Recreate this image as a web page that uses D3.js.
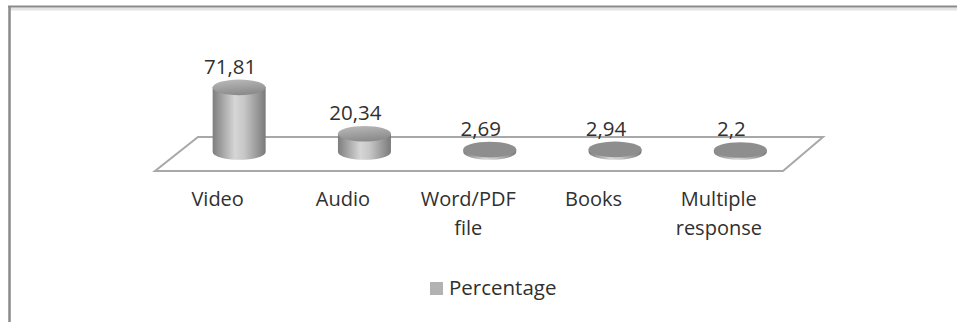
<!DOCTYPE html>
<html>
<head>
<meta charset="utf-8">
<script src="https://cdn.jsdelivr.net/npm/d3@7/dist/d3.min.js"></script>
<style>
  html, body { margin: 0; padding: 0; background: #fff; }
  svg { display: block; }
  text { font-family: "Open Sans", "Liberation Sans", sans-serif; fill: #303030; }
</style>
</head>
<body>
<script>
// Chart data
const categories = ["Video", "Audio", "Word/PDF file", "Books", "Multiple response"];
const categoryLines = [["Video"], ["Audio"], ["Word/PDF", "file"], ["Books"], ["Multiple", "response"]];
const percentages = [71.81, 20.34, 2.69, 2.94, 2.2];
const valueLabels = ["71,81", "20,34", "2,69", "2,94", "2,2"];
const seriesName = "Percentage";

const W = 957, H = 322;
const svg = d3.select("body").append("svg").attr("width", W).attr("height", H);

// Frame (top and left edges visible)
svg.append("line").attr("x1", 9).attr("x2", W).attr("y1", 9).attr("y2", 9)
  .attr("stroke", "#e4e4e4").attr("stroke-width", 3);
svg.append("line").attr("x1", 8).attr("x2", W).attr("y1", 6.5).attr("y2", 6.5)
  .attr("stroke", "#8a8a8a").attr("stroke-width", 2);
svg.append("line").attr("x1", 9.5).attr("x2", 9.5).attr("y1", 6).attr("y2", H)
  .attr("stroke", "#8a8a8a").attr("stroke-width", 2.5);

// Floor geometry
const floorMidY = 154, floorDepth = 17, skew = 21.5;
const x = d3.scaleBand().domain(categories).range([176.5, 803]).padding(0);
const y = d3.scaleLinear().domain([0, 80]).range([0, 72]);

const x0 = x.range()[0], x1 = x.range()[1];
const floor = [
  [x0 + skew, floorMidY - floorDepth],
  [x1 + skew - 1.5, floorMidY - floorDepth],
  [x1 - skew + 1.5, floorMidY + floorDepth],
  [x0 - skew, floorMidY + floorDepth]
];
svg.append("path")
  .attr("d", d3.line()(floor) + "Z")
  .attr("fill", "none").attr("stroke", "#a8a8a8").attr("stroke-width", 2)
  .attr("stroke-linejoin", "miter");

// Gradients for the cylinders
const defs = svg.append("defs");
const sideGrad = defs.append("linearGradient").attr("id", "side")
  .attr("x1", "0").attr("x2", "1").attr("y1", "0").attr("y2", "0");
sideGrad.append("stop").attr("offset", "0").attr("stop-color", "#7e7e7e");
sideGrad.append("stop").attr("offset", "0.42").attr("stop-color", "#d6d6d6");
sideGrad.append("stop").attr("offset", "0.6").attr("stop-color", "#c6c6c6");
sideGrad.append("stop").attr("offset", "1").attr("stop-color", "#7a7a7a");
const capGrad = defs.append("linearGradient").attr("id", "cap")
  .attr("x1", "0").attr("x2", "0.3").attr("y1", "0").attr("y2", "1");
capGrad.append("stop").attr("offset", "0").attr("stop-color", "#bcbcbc");
capGrad.append("stop").attr("offset", "1").attr("stop-color", "#8c8c8c");

const rx = 26.5, ry = 7.8, baseY = 152;

const bars = svg.append("g").selectAll("g").data(categories).join("g");
bars.each(function (c, i) {
  const g = d3.select(this);
  const cx = x(c) + x.bandwidth() / 2;
  const h = y(percentages[i]);
  const topY = baseY - h;
  // body: rectangle + lower half ellipse
  const body = `M${cx - rx},${topY} L${cx - rx},${baseY} ` +
    `A${rx},${ry} 0 0 0 ${cx + rx},${baseY} L${cx + rx},${topY} Z`;
  g.append("path").attr("d", body).attr("fill", "url(#side)");
  g.append("ellipse").attr("cx", cx).attr("cy", topY).attr("rx", rx).attr("ry", ry)
    .attr("fill", h > 6 ? "url(#cap)" : "#8e8e8e");
  g.append("text")
    .attr("x", cx - 9).attr("y", topY - ry - 6)
    .attr("text-anchor", "middle").attr("font-size", 20.5)
    .text(valueLabels[i]);
  // category label, anchored on the front edge of the floor
  const t = g.append("text")
    .attr("x", cx - skew).attr("y", 205.5)
    .attr("text-anchor", "middle").attr("font-size", 20);
  categoryLines[i].forEach((line, k) => {
    t.append("tspan").attr("x", cx - skew).attr("dy", k === 0 ? 0 : 29.5).text(line);
  });
});

// Legend
const legend = svg.append("g");
legend.append("rect").attr("x", 430).attr("y", 282).attr("width", 13).attr("height", 13)
  .attr("fill", "#b2b2b2");
legend.append("text").attr("x", 449).attr("y", 295).attr("font-size", 20.5).text(seriesName);
</script>
</body>
</html>
